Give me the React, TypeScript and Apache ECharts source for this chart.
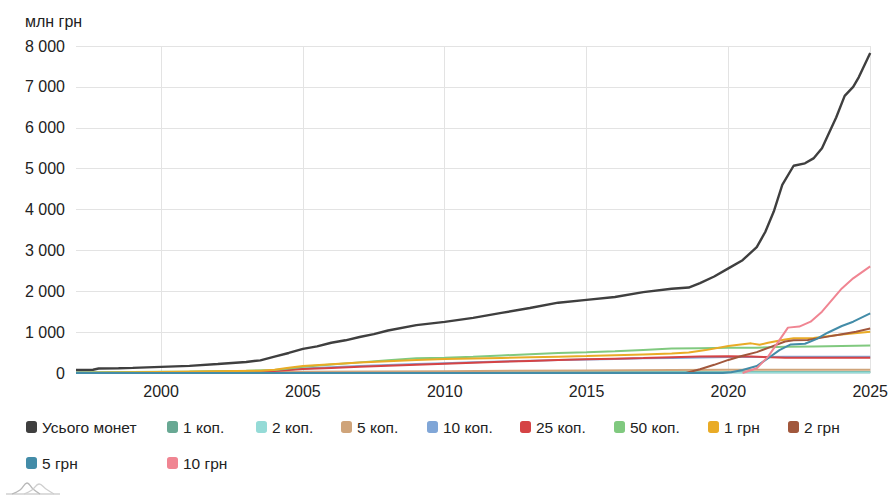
import React, { useEffect, useRef } from "react";
import * as echarts from "echarts";

type Pt = [number, number];

const seriesNames = ["Усього монет", "1 коп.", "2 коп.", "5 коп.", "10 коп.", "25 коп.", "50 коп.", "1 грн", "2 грн", "5 грн", "10 грн"];
const seriesColors = ["#3f3f3f", "#68a893", "#95dbd7", "#cfa47a", "#80a6d7", "#d54345", "#80c97f", "#e9ab26", "#a1573c", "#438ca8", "#f08592"];

const xTickYears = [2000, 2005, 2010, 2015, 2020, 2025];

const totalCoins: Pt[] = [
  [1997.0, 75], [1997.6, 80], [1997.8, 110], [1998.5, 115], [1999, 125], [2000, 150], [2001, 175], [2002, 220],
  [2003, 270], [2003.5, 310], [2004, 400], [2004.5, 490], [2005, 590], [2005.5, 650], [2006, 740], [2006.5, 800],
  [2007, 880], [2007.5, 950], [2008, 1040], [2009, 1170], [2010, 1250], [2011, 1350], [2012, 1470], [2013, 1590],
  [2014, 1720], [2015, 1790], [2016, 1860], [2017, 1980], [2018, 2060], [2018.6, 2090], [2019, 2200], [2019.5, 2360],
  [2020, 2560], [2020.5, 2760], [2021, 3080], [2021.3, 3450], [2021.6, 3950], [2021.9, 4600], [2022.3, 5070],
  [2022.7, 5130], [2023, 5250], [2023.3, 5500], [2023.6, 5950], [2023.8, 6250], [2024.1, 6780], [2024.4, 7000],
  [2024.6, 7240], [2025, 7830],
];
const kop1: Pt[] = [[1997, 5], [2000, 10], [2005, 15], [2010, 20], [2015, 22], [2025, 22]];
const kop2: Pt[] = [[1997, 3], [2000, 8], [2005, 12], [2010, 15], [2015, 15], [2025, 15]];
const kop5: Pt[] = [[1997, 0], [2000, 10], [2003, 20], [2005, 30], [2010, 45], [2015, 62], [2018, 72], [2020, 78], [2025, 82]];
const kop10: Pt[] = [
  [1997, 0], [2000, 15], [2003, 40], [2004, 60], [2005, 110], [2006, 140], [2007, 170], [2008, 195], [2009, 220],
  [2010, 240], [2011, 260], [2012, 280], [2013, 300], [2014, 315], [2015, 330], [2016, 345], [2017, 360], [2018, 370],
  [2019, 380], [2020, 390], [2022, 395], [2025, 400],
];
const kop25: Pt[] = [
  [1997, 0], [1999, 10], [2002, 25], [2004, 50], [2005, 95], [2006, 125], [2007, 150], [2008, 175], [2009, 200],
  [2010, 225], [2011, 250], [2012, 275], [2013, 295], [2014, 315], [2015, 335], [2016, 350], [2017, 365], [2018, 385],
  [2019, 405], [2020, 412], [2020.8, 405], [2021.5, 385], [2022, 375], [2025, 375],
];
const kop50: Pt[] = [
  [1997, 15], [1999, 25], [2001, 35], [2003, 55], [2004, 75], [2004.5, 110], [2005, 150], [2006, 210], [2007, 260],
  [2008, 310], [2009, 360], [2010, 375], [2011, 400], [2012, 430], [2013, 460], [2014, 490], [2015, 505], [2016, 530],
  [2017, 565], [2018, 600], [2019, 608], [2020, 615], [2021, 620], [2022, 640], [2023, 650], [2024, 660], [2025, 670],
];
const uah1: Pt[] = [
  [1997, 0], [2003.5, 55], [2004, 80], [2004.5, 130], [2005, 170], [2006, 215], [2007, 255], [2008, 290], [2009, 320],
  [2010, 340], [2011, 355], [2012, 370], [2013, 385], [2014, 400], [2015, 415], [2016, 435], [2017, 455], [2018, 475],
  [2018.6, 500], [2019.2, 560], [2020, 660], [2020.8, 725], [2021.1, 690], [2021.4, 740], [2022, 820], [2022.3, 850],
  [2023, 855], [2023.5, 900], [2024, 940], [2025, 1010],
];
const uah2: Pt[] = [
  [1997, 0], [2018.5, 0], [2019, 90], [2019.5, 200], [2020, 320], [2020.5, 420], [2021, 510], [2021.5, 640],
  [2022, 770], [2022.3, 800], [2022.8, 810], [2023.5, 890], [2024, 950], [2024.5, 1010], [2025, 1090],
];
const uah5: Pt[] = [
  [1997, 0], [2019.8, 0], [2020.1, 20], [2020.5, 75], [2021, 170], [2021.4, 360], [2021.8, 560], [2022.2, 700],
  [2022.7, 715], [2023.1, 830], [2023.5, 985], [2024, 1150], [2024.4, 1255], [2025, 1460],
];
const uah10: Pt[] = [
  [2020.5, 0], [2021, 115], [2021.4, 400], [2021.8, 805], [2022.1, 1110], [2022.5, 1135], [2022.9, 1255],
  [2023.3, 1500], [2024, 2070], [2024.4, 2315], [2025, 2610],
];

const seriesData: Pt[][] = [totalCoins, kop1, kop2, kop5, kop10, kop25, kop50, uah1, uah2, uah5, uah10];

const legendPos: [number, number][] = [
  [26, 428], [167, 428], [256, 428], [341, 428], [427, 428], [520, 428], [614, 428], [708, 428], [788, 428],
  [26, 464], [167, 464],
];

const FONT = "'Liberation Sans', Arial, sans-serif";

const fmtThousands = (v: number) => String(v).replace(/\B(?=(\d{3})+(?!\d))/g, " ");

export default function App() {
  const ref = useRef<HTMLDivElement>(null);
  useEffect(() => {
    document.body.style.margin = "0";
    const chart = echarts.init(ref.current!, null, { renderer: "svg" });
    const option: any = {
      animation: false,
      backgroundColor: "#ffffff",
      textStyle: { fontFamily: FONT },
      grid: { left: 76, right: 16, top: 46, bottom: 127, containLabel: false },
      xAxis: {
        type: "value",
        min: 1997,
        max: 2025,
        axisLine: { show: false },
        axisTick: { show: false, customValues: xTickYears },
        axisLabel: { customValues: xTickYears, color: "#222", fontSize: 16, fontFamily: FONT, margin: 10, formatter: (v: number) => String(v) },
        splitLine: { show: true, lineStyle: { color: "#e3e3e3", width: 1 } },
      },
      yAxis: {
        type: "value",
        min: 0,
        max: 8000,
        interval: 1000,
        axisLine: { show: false },
        axisTick: { show: false },
        axisLabel: { color: "#222", fontSize: 16, fontFamily: FONT, margin: 11, formatter: (v: number) => fmtThousands(v) },
        splitLine: { show: true, lineStyle: { color: "#e3e3e3", width: 1 } },
      },
      legend: seriesNames.map((n, i) => ({
        data: [n],
        left: legendPos[i][0],
        top: legendPos[i][1] - 9,
        itemWidth: 11,
        itemHeight: 12,
        icon: "roundRect",
        selectedMode: false,
        textStyle: { fontSize: 15.5, color: "#222", fontFamily: FONT },
        padding: 0,
      })),
      series: seriesNames.map((n, i) => ({
        name: n,
        type: "line",
        data: seriesData[i],
        showSymbol: false,
        symbol: "none",
        color: seriesColors[i],
        lineStyle: { color: seriesColors[i], width: i === 0 ? 2.4 : 2 },
        z: i === 0 ? 3 : 2,
      })),
      graphic: [
        { type: "text", left: 25, top: 13, style: { text: "млн грн", fontSize: 16, fill: "#222", fontFamily: FONT } },
        { type: "line", shape: { x1: 6, y1: 494, x2: 60, y2: 494 }, style: { stroke: "#d0d0d0", lineWidth: 1.5 } },
        { type: "polyline", shape: { points: [[12, 494], [20, 490], [27, 483], [33, 489], [40, 494]], smooth: 0.4 }, style: { stroke: "#b8b8b8", lineWidth: 1.3, fill: "none" } },
        { type: "polyline", shape: { points: [[24, 494], [32, 490], [39, 484], [46, 489], [54, 494]], smooth: 0.4 }, style: { stroke: "#cfcfcf", lineWidth: 1.3, fill: "none" } },
      ],
    };
    chart.setOption(option);
    return () => chart.dispose();
  }, []);
  return <div ref={ref} style={{ width: 891, height: 500 }} />;
}
